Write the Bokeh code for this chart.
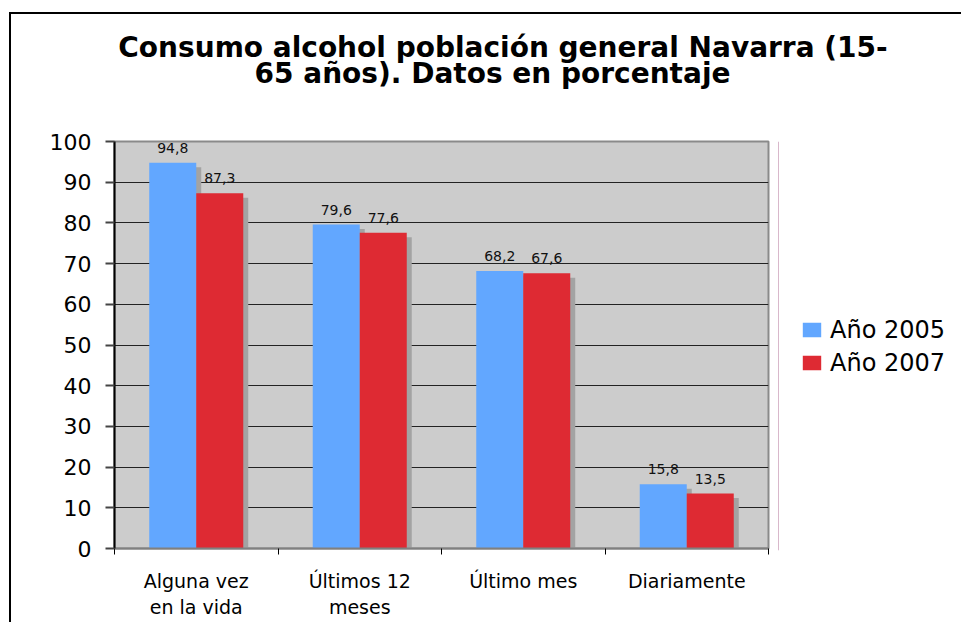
from bokeh.plotting import figure
from bokeh.models import (ColumnDataSource, FixedTicker, Label, Legend, LegendItem, LabelSet,
                          Range1d)
from bokeh.layouts import column, row
from bokeh.embed import file_html
from bokeh.resources import INLINE
from bokeh.core.properties import value

# ---- data ----
categories = ["Alguna vez\nen la vida", "Últimos 12\nmeses", "Último mes", "Diariamente"]
series_names = ["Año 2005", "Año 2007"]
values_2005 = [94.8, 79.6, 68.2, 15.8]
values_2007 = [87.3, 77.6, 67.6, 13.5]
y_ticks = [0, 10, 20, 30, 40, 50, 60, 70, 80, 90, 100]
title_lines = ["Consumo alcohol población general Navarra (15-", "65 años). Datos en porcentaje"]

FONT = "DejaVu Sans"
BLUE = "#62A7FF"
RED = "#DE2A33"
SHADOW = "#A3A3A3"


def blank(width, height, xr, yr):
    f = figure(width=width, height=height, output_backend="svg", toolbar_location=None,
               x_range=xr, y_range=yr, x_axis_type=None, y_axis_type=None,
               min_border=0, min_border_left=0, min_border_right=0,
               min_border_top=0, min_border_bottom=0)
    f.outline_line_color = None
    f.background_fill_color = "white"
    f.border_fill_color = "white"
    f.xgrid.grid_line_color = None
    f.ygrid.grid_line_color = None
    return f


# ---------- title strip ----------
TW, TH = 950, 107
tf = blank(TW, TH, Range1d(0, TW), Range1d(0, TH))
for txt, xc, yb in ((title_lines[0], 491.5, 74), (title_lines[1], 481, 48)):
    tf.add_layout(Label(x=xc, y=yb, text=txt, text_align="center", text_baseline="alphabetic",
                        text_font=FONT, text_font_style="bold", text_font_size="28px",
                        text_color="black"))

# ---------- chart ----------
p = figure(width=767, height=499, output_backend="svg", toolbar_location=None,
           x_range=Range1d(0, len(categories)), y_range=Range1d(0, 100),
           min_border_left=103, min_border_top=20, min_border_right=10, min_border_bottom=70)
p.background_fill_color = "#CCCCCC"
p.border_fill_color = "white"
p.outline_line_color = "#8A8A8A"
p.outline_line_width = 2

bw = 0.2875
centers = [i + 0.5 for i in range(len(categories))]
x05 = [c - bw / 2 for c in centers]
x07 = [c + bw / 2 for c in centers]
sx = 5 / 163.5   # shadow offset (5px) in x units
sy = 4.5 / 4.09  # shadow offset (~4.5px) in y units

src = ColumnDataSource(dict(
    x05=x05, x07=x07, v05=values_2005, v07=values_2007,
    sx05=[x + sx for x in x05], sx07=[x + sx for x in x07],
    sv05=[v - sy for v in values_2005], sv07=[v - sy for v in values_2007],
    t05=[f"{v:.1f}".replace(".", ",") for v in values_2005],
    t07=[f"{v:.1f}".replace(".", ",") for v in values_2007],
))

p.vbar(x="sx05", top="sv05", width=bw, source=src, fill_color=SHADOW, line_color=None)
p.vbar(x="sx07", top="sv07", width=bw, source=src, fill_color=SHADOW, line_color=None)
p.vbar(x="x05", top="v05", width=bw, source=src, fill_color=BLUE, line_color=None)
p.vbar(x="x07", top="v07", width=bw, source=src, fill_color=RED, line_color=None)

for xc, yc, tc in (("x05", "v05", "t05"), ("x07", "v07", "t07")):
    p.add_layout(LabelSet(x=xc, y=yc, text=tc, source=src, y_offset=10,
                          text_align="center", text_baseline="alphabetic",
                          text_font=value(FONT), text_font_size="14px", text_color="#111111"))

p.yaxis.ticker = FixedTicker(ticks=y_ticks)
p.yaxis.major_label_text_font = FONT
p.yaxis.major_label_text_font_size = "22px"
p.yaxis.major_label_text_color = "black"
p.yaxis.major_tick_out = 9
p.yaxis.major_tick_in = 0
p.yaxis.minor_tick_out = 0
p.yaxis.minor_tick_in = 0
p.yaxis.major_label_standoff = 14
p.yaxis.axis_line_color = "black"
p.yaxis.axis_line_width = 2
p.yaxis.major_tick_line_color = "#444444"
p.yaxis.major_tick_line_width = 2

p.xaxis.ticker = FixedTicker(ticks=centers, minor_ticks=list(range(len(categories) + 1)))
p.xaxis.major_label_overrides = {c: lab for c, lab in zip(centers, categories)}
p.xaxis.major_label_text_font = FONT
p.xaxis.major_label_text_font_size = "19px"
p.xaxis.major_label_text_color = "black"
p.xaxis.major_tick_out = 0
p.xaxis.major_tick_in = 0
p.xaxis.minor_tick_out = 6
p.xaxis.minor_tick_in = 0
p.xaxis.minor_tick_line_color = "black"
p.xaxis.minor_tick_line_width = 1
p.xaxis.major_label_standoff = 15
p.xaxis.axis_line_color = "#808080"
p.xaxis.axis_line_width = 2

p.xgrid.grid_line_color = None
p.ygrid.ticker = FixedTicker(ticks=y_ticks)
p.ygrid.grid_line_color = "#222222"
p.ygrid.grid_line_width = 1

# ---------- legend strip ----------
lf = blank(183, 501, Range1d(0, 1), Range1d(0, 1))
# proxy bars (kept outside the visible range) that only provide the legend swatches
lsrc = ColumnDataSource(dict(x=[-5.0], top=[1.0]))
l05 = lf.vbar(x="x", top="top", width=0.1, source=lsrc, fill_color=BLUE, line_color=None)
l07 = lf.vbar(x="x", top="top", width=0.1, source=lsrc, fill_color=RED, line_color=None)
legend = Legend(items=[LegendItem(label=series_names[0], renderers=[l05]),
                       LegendItem(label=series_names[1], renderers=[l07])],
                location="center_left", orientation="vertical",
                glyph_width=23, glyph_height=18, label_standoff=7, spacing=5,
                padding=0, margin=22, border_line_alpha=0, background_fill_alpha=0,
                label_text_font=FONT, label_text_font_size="24px", label_text_color="black",
                label_height=18)
lf.add_layout(legend)

layout = column(tf, row(p, lf, spacing=0), spacing=0)
layout.styles = {"border-left": "2px solid #000", "border-top": "2px solid #000",
                 "margin-left": "9px", "margin-top": "12px"}

open("out.html", "w").write(file_html(layout, INLINE))
